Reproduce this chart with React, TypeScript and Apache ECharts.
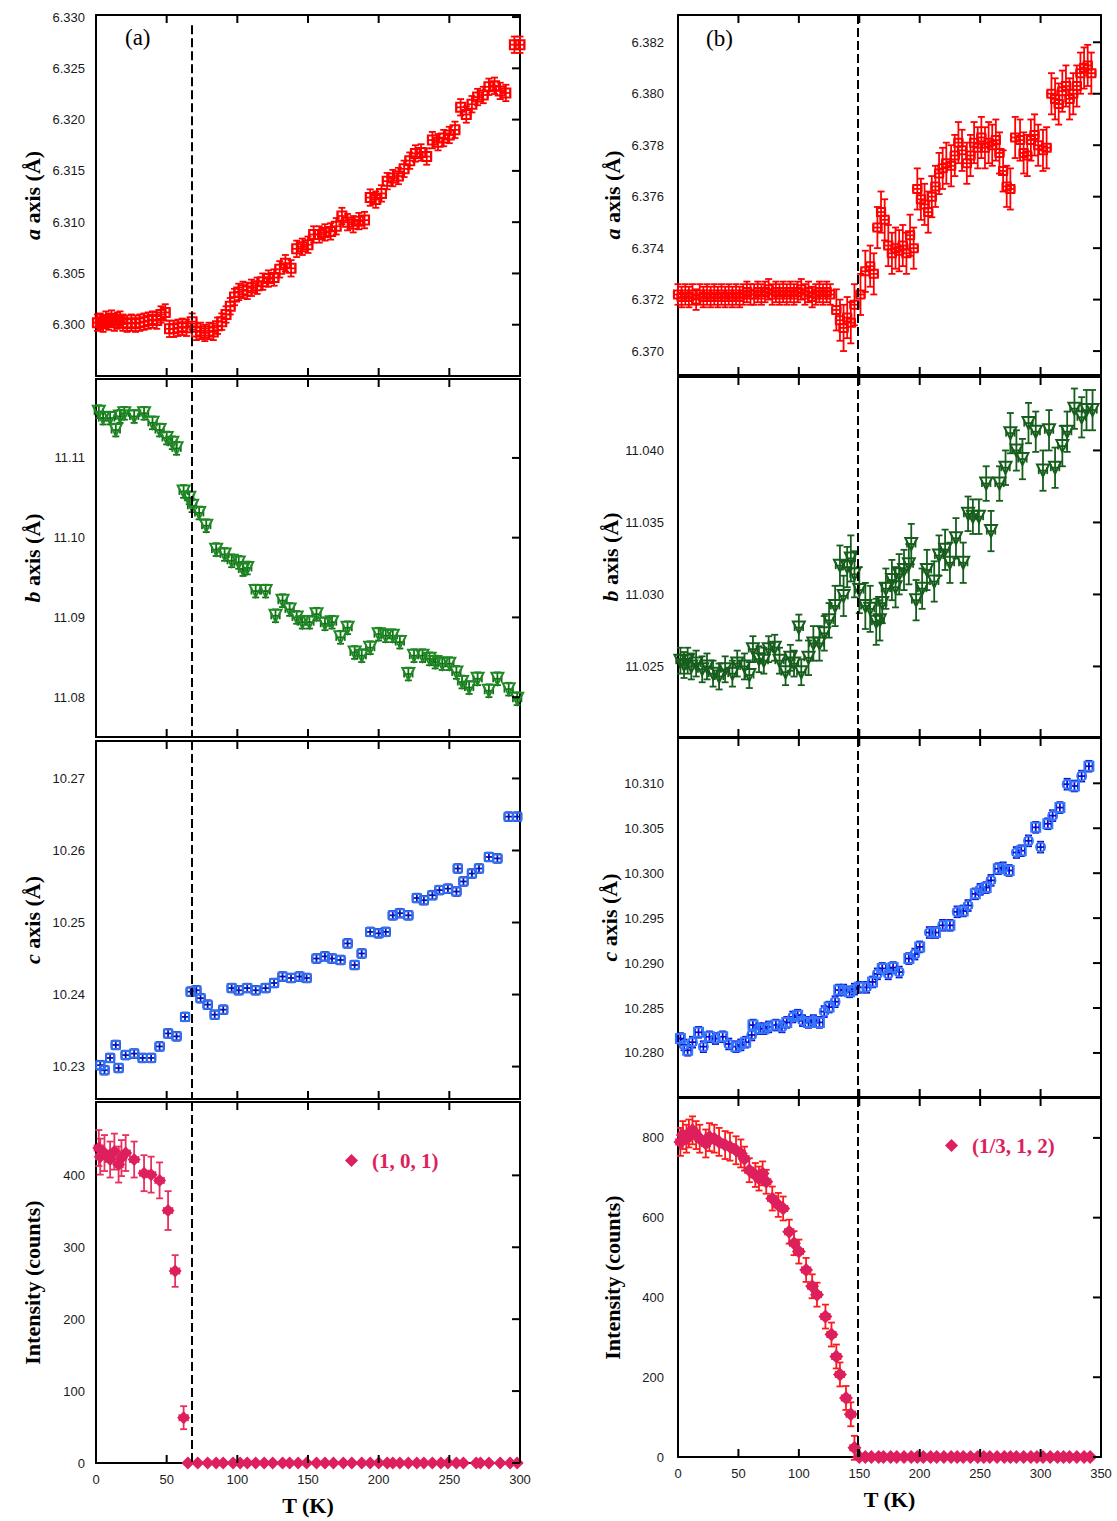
import React, { useEffect, useRef } from "react";
import * as echarts from "echarts";

// ---------------- data ----------------
const tLeftTicks = [0, 50, 100, 150, 200, 250, 300];
const tRightTicks = [0, 50, 100, 150, 200, 250, 300, 350];

const aLeftTicks = [6.3, 6.305, 6.31, 6.315, 6.32, 6.325, 6.33];
const bLeftTicks = [11.08, 11.09, 11.1, 11.11];
const cLeftTicks = [10.23, 10.24, 10.25, 10.26, 10.27];
const iLeftTicks = [0, 100, 200, 300, 400];
const aRightTicks = [6.37, 6.372, 6.374, 6.376, 6.378, 6.38, 6.382];
const bRightTicks = [11.025, 11.03, 11.035, 11.04];
const cRightTicks = [10.28, 10.285, 10.29, 10.295, 10.3, 10.305, 10.31];
const iRightTicks = [0, 200, 400, 600, 800];

const transitionLeft = 67.5; // K
const transitionRight = 149; // K

const legendLeft = "(1, 0, 1)";
const legendRight = "(1/3, 1, 2)";

// [T (K), value, error in value]
const aLeft = [
  [1, 6.3002, 0.0008], [3, 6.3003, 0.0008], [5, 6.3001, 0.0008], [7, 6.3005, 0.0008], [9, 6.3003, 0.0008],
  [11, 6.3006, 0.0008], [13, 6.3002, 0.0008], [15, 6.3004, 0.0008], [17, 6.3005, 0.0008], [19, 6.3002, 0.0008],
  [22, 6.3001, 0.0008], [25, 6.3002, 0.0008], [28, 6.3001, 0.0008], [31, 6.3002, 0.0008], [34, 6.3003, 0.0008],
  [37, 6.3004, 0.0008], [40, 6.3005, 0.0008], [43, 6.3004, 0.0008], [46, 6.301, 0.0008], [49, 6.3012, 0.0008],
  [52, 6.2996, 0.0008], [55, 6.2996, 0.0008], [58, 6.2997, 0.0008], [61, 6.2998, 0.0008], [64, 6.2997, 0.0008],
  [68, 6.3003, 0.0008], [71, 6.2993, 0.0008], [74, 6.2994, 0.0008], [77, 6.2992, 0.0008], [80, 6.2994, 0.0008],
  [83, 6.2993, 0.0008], [86, 6.2999, 0.0008], [89, 6.3003, 0.0008], [92, 6.301, 0.0008], [95, 6.3018, 0.0008],
  [98, 6.3027, 0.0008], [101, 6.3032, 0.0008], [104, 6.3034, 0.0008], [107, 6.3033, 0.0008], [110, 6.3036, 0.0008],
  [114, 6.3038, 0.0008], [118, 6.3042, 0.0008], [122, 6.3045, 0.0008], [126, 6.3046, 0.0008], [130, 6.3054, 0.0008],
  [134, 6.306, 0.0008], [138, 6.3055, 0.0008], [142, 6.3074, 0.0008], [146, 6.3076, 0.0008], [150, 6.3078, 0.0008],
  [154, 6.3088, 0.0008], [158, 6.3088, 0.0008], [162, 6.309, 0.0008], [166, 6.3091, 0.0008], [170, 6.3096, 0.0008],
  [174, 6.3106, 0.0008], [178, 6.31, 0.0008], [182, 6.3098, 0.0008], [186, 6.3101, 0.0008], [190, 6.3102, 0.0008],
  [194, 6.3124, 0.0008], [198, 6.3122, 0.0008], [202, 6.3128, 0.0008], [206, 6.314, 0.0008], [210, 6.3143, 0.0008],
  [214, 6.3145, 0.0008], [218, 6.3152, 0.0008], [222, 6.316, 0.0008], [226, 6.3167, 0.0008], [230, 6.3168, 0.0008],
  [234, 6.3164, 0.0008], [238, 6.318, 0.0008], [242, 6.3178, 0.0008], [246, 6.3182, 0.0008], [250, 6.3185, 0.0008],
  [254, 6.319, 0.0008], [258, 6.3212, 0.0008], [262, 6.3205, 0.0008], [266, 6.3215, 0.0008], [270, 6.3222, 0.0008],
  [274, 6.3224, 0.0008], [278, 6.3232, 0.0008], [282, 6.3233, 0.0008], [286, 6.3228, 0.0008], [290, 6.3226, 0.0008],
  [296, 6.3273, 0.0008], [300, 6.3273, 0.0008],
];

const bLeft = [
  [2, 11.1158, 0.0008], [5, 11.115, 0.0008], [10, 11.115, 0.0008], [14, 11.1135, 0.0008], [17, 11.1152, 0.0008],
  [20, 11.1156, 0.0008], [27, 11.1152, 0.0008], [34, 11.1156, 0.0008], [40, 11.1144, 0.0008], [45, 11.1135, 0.0008],
  [50, 11.1125, 0.0008], [54, 11.1119, 0.0008], [57, 11.1112, 0.0008], [62, 11.1058, 0.0008], [66, 11.105, 0.0008],
  [68, 11.104, 0.0008], [73, 11.1031, 0.0008], [78, 11.1015, 0.0008], [85, 11.0985, 0.0008], [91, 11.0979, 0.0008],
  [96, 11.0971, 0.0008], [101, 11.0969, 0.0008], [104, 11.096, 0.0008], [107, 11.0962, 0.0008], [113, 11.0933, 0.0008],
  [120, 11.0933, 0.0008], [127, 11.0902, 0.0008], [132, 11.0921, 0.0008], [137, 11.091, 0.0008], [142, 11.09, 0.0008],
  [146, 11.0894, 0.0008], [151, 11.0894, 0.0008], [156, 11.0904, 0.0008], [162, 11.0892, 0.0008], [167, 11.0894, 0.0008],
  [173, 11.0875, 0.0008], [178, 11.0887, 0.0008], [183, 11.0856, 0.0008], [188, 11.0852, 0.0008], [194, 11.0862, 0.0008],
  [200, 11.0879, 0.0008], [205, 11.0877, 0.0008], [210, 11.0877, 0.0008], [215, 11.0869, 0.0008], [221, 11.0829, 0.0008],
  [225, 11.0852, 0.0008], [231, 11.0852, 0.0008], [236, 11.0848, 0.0008], [240, 11.0844, 0.0008], [245, 11.0842, 0.0008],
  [250, 11.0842, 0.0008], [255, 11.0831, 0.0008], [259, 11.0819, 0.0008], [264, 11.0812, 0.0008], [270, 11.0823, 0.0008],
  [278, 11.0808, 0.0008], [284, 11.0823, 0.0008], [292, 11.081, 0.0008], [298, 11.0798, 0.0008],
];

const cLeft = [
  [3, 10.2302, 0.0006], [6, 10.2295, 0.0006], [10, 10.2312, 0.0006], [14, 10.233, 0.0006], [16, 10.2298, 0.0006],
  [21, 10.2316, 0.0006], [27, 10.2318, 0.0006], [33, 10.2312, 0.0006], [39, 10.2312, 0.0006], [45, 10.2328, 0.0006],
  [51, 10.2346, 0.0006], [57, 10.2342, 0.0006], [63, 10.2369, 0.0006], [67, 10.2404, 0.0006], [71, 10.2406, 0.0006],
  [74, 10.2395, 0.0006], [79, 10.2386, 0.0006], [84, 10.2372, 0.0006], [90, 10.2379, 0.0006], [96, 10.2409, 0.0006],
  [101, 10.2406, 0.0006], [107, 10.2409, 0.0006], [113, 10.2406, 0.0006], [120, 10.2409, 0.0006], [126, 10.2416, 0.0006],
  [132, 10.2425, 0.0006], [138, 10.2423, 0.0006], [144, 10.2425, 0.0006], [149, 10.2423, 0.0006], [156, 10.245, 0.0006],
  [162, 10.2453, 0.0006], [167, 10.245, 0.0006], [173, 10.2448, 0.0006], [178, 10.2471, 0.0006], [183, 10.2441, 0.0006],
  [188, 10.2457, 0.0006], [194, 10.2487, 0.0006], [200, 10.2485, 0.0006], [205, 10.2487, 0.0006], [210, 10.251, 0.0006],
  [215, 10.2513, 0.0006], [221, 10.251, 0.0006], [227, 10.2534, 0.0006], [232, 10.2531, 0.0006], [238, 10.2538, 0.0006],
  [243, 10.2545, 0.0006], [249, 10.2547, 0.0006], [255, 10.2543, 0.0006], [256, 10.2575, 0.0006], [260, 10.2557, 0.0006],
  [266, 10.2568, 0.0006], [271, 10.2575, 0.0006], [278, 10.2591, 0.0006], [284, 10.2589, 0.0006], [292, 10.2647, 0.0006],
  [298, 10.2647, 0.0006],
];

const iLeft = [
  [2, 438, 25], [3, 426, 25], [6, 431, 25], [10, 422, 25], [13, 433, 25], [16, 415, 25], [18, 424, 25],
  [21, 431, 25], [27, 422, 25], [34, 403, 25], [39, 401, 25], [45, 393, 25], [51, 351, 27], [56, 267, 22],
  [62, 63, 16],
  [65, 0, 0], [72, 0, 0], [79, 0, 0], [85, 0, 0], [90, 0, 0], [97, 0, 0], [102, 0, 0], [107, 0, 0], [113, 0, 0],
  [119, 0, 0], [125, 0, 0], [132, 0, 0], [137, 0, 0], [143, 0, 0], [149, 0, 0], [156, 0, 0], [162, 0, 0],
  [168, 0, 0], [175, 0, 0], [181, 0, 0], [188, 0, 0], [194, 0, 0], [200, 0, 0], [206, 0, 0], [210, 0, 0],
  [215, 0, 0], [221, 0, 0], [227, 0, 0], [232, 0, 0], [238, 0, 0], [244, 0, 0], [249, 0, 0], [255, 0, 0],
  [260, 0, 0], [269, 0, 0], [272, 0, 0], [278, 0, 0], [286, 0, 0], [293, 0, 0], [298, 0, 0],
];

const aRight = [
  [0, 6.3722, 0.0004], [3, 6.3721, 0.0004], [6, 6.3722, 0.0004], [9, 6.3721, 0.0004], [12, 6.3722, 0.0004],
  [15, 6.372, 0.0004], [18, 6.3722, 0.0004], [21, 6.3721, 0.0004], [24, 6.3722, 0.0004], [27, 6.3721, 0.0004],
  [30, 6.3722, 0.0004], [33, 6.3721, 0.0004], [36, 6.3722, 0.0004], [39, 6.3721, 0.0004], [42, 6.3722, 0.0004],
  [45, 6.3721, 0.0004], [48, 6.3722, 0.0004], [51, 6.3721, 0.0004], [54, 6.3722, 0.0004], [57, 6.3723, 0.0004],
  [60, 6.3722, 0.0004], [63, 6.3722, 0.0004], [66, 6.3723, 0.0004], [69, 6.3722, 0.0004], [72, 6.3723, 0.0004],
  [75, 6.3724, 0.0004], [78, 6.3722, 0.0004], [81, 6.3723, 0.0004], [84, 6.3722, 0.0004], [87, 6.3723, 0.0004],
  [90, 6.3722, 0.0004], [93, 6.3723, 0.0004], [96, 6.3722, 0.0004], [99, 6.3723, 0.0004], [102, 6.3724, 0.0004],
  [105, 6.3722, 0.0004], [108, 6.3723, 0.0004], [111, 6.3721, 0.0004], [114, 6.3722, 0.0004], [117, 6.3723, 0.0004],
  [120, 6.3722, 0.0004], [123, 6.3723, 0.0004], [126, 6.3722, 0.0004],
  [131, 6.3716, 0.0008], [134, 6.3712, 0.0008], [137, 6.3709, 0.0009], [140, 6.3713, 0.0008], [143, 6.3711, 0.0008],
  [146, 6.3718, 0.0008], [151, 6.3722, 0.0008], [155, 6.3731, 0.0008], [159, 6.3733, 0.0008], [162, 6.373, 0.0008],
  [165, 6.3748, 0.0008], [168, 6.3754, 0.0008], [171, 6.3751, 0.0008], [174, 6.3741, 0.0008], [177, 6.3738, 0.0008],
  [180, 6.374, 0.0008], [183, 6.3739, 0.0008], [186, 6.3741, 0.0008], [189, 6.3738, 0.0008], [192, 6.3745, 0.0008],
  [195, 6.374, 0.0008], [198, 6.3763, 0.0008], [201, 6.3759, 0.0008], [204, 6.3757, 0.0008], [207, 6.3754, 0.0008],
  [210, 6.376, 0.0008], [213, 6.3764, 0.0008], [216, 6.3769, 0.0008], [219, 6.3771, 0.0008], [222, 6.3773, 0.0008],
  [226, 6.3772, 0.0008], [229, 6.3776, 0.0008], [232, 6.3781, 0.0008], [235, 6.3778, 0.0008], [239, 6.3773, 0.0008],
  [242, 6.3776, 0.0008], [245, 6.3781, 0.0008], [248, 6.3779, 0.0008], [251, 6.3783, 0.0008], [254, 6.3779, 0.0008],
  [257, 6.3781, 0.0008], [260, 6.378, 0.0008], [263, 6.3782, 0.0008], [266, 6.3777, 0.0008], [269, 6.377, 0.0008],
  [272, 6.3764, 0.0008], [275, 6.3763, 0.0008], [279, 6.3783, 0.0008], [283, 6.3782, 0.0008], [286, 6.3777, 0.0008],
  [289, 6.3776, 0.0008], [292, 6.3782, 0.0008], [295, 6.3784, 0.0008], [298, 6.378, 0.0008], [302, 6.3778, 0.0008],
  [305, 6.3779, 0.0008], [309, 6.38, 0.0008], [312, 6.3798, 0.0008], [315, 6.3796, 0.0008], [318, 6.3801, 0.0008],
  [321, 6.3803, 0.0008], [324, 6.3798, 0.0008], [327, 6.38, 0.0008], [330, 6.3803, 0.0008], [333, 6.3808, 0.0008],
  [336, 6.381, 0.0008], [339, 6.3811, 0.0008], [342, 6.3808, 0.0008],
];

const bRight = [
  [2, 11.0254, 0.0009], [5, 11.0251, 0.0009], [8, 11.0254, 0.0009], [11, 11.025, 0.0009], [15, 11.0252, 0.0009],
  [20, 11.0248, 0.0009], [24, 11.025, 0.0009], [29, 11.0245, 0.0009], [34, 11.0243, 0.0009], [39, 11.0248, 0.0009],
  [45, 11.0245, 0.0009], [49, 11.0252, 0.0009], [55, 11.025, 0.0009], [59, 11.0244, 0.0009], [62, 11.0262, 0.0009],
  [67, 11.0255, 0.0009], [71, 11.0254, 0.0009], [75, 11.0262, 0.0009], [80, 11.0263, 0.0009], [84, 11.0254, 0.0009],
  [89, 11.0246, 0.0009], [93, 11.0256, 0.0009], [96, 11.0252, 0.0009], [100, 11.0277, 0.0009], [102, 11.0246, 0.0009],
  [108, 11.0256, 0.0012], [112, 11.0266, 0.0012], [117, 11.0266, 0.0012], [121, 11.0273, 0.0012], [125, 11.0282, 0.0012],
  [130, 11.0292, 0.0014], [134, 11.032, 0.0014], [137, 11.0299, 0.0014], [140, 11.0319, 0.0014], [143, 11.0325, 0.0016],
  [146, 11.0314, 0.0016], [150, 11.0303, 0.0016], [155, 11.0292, 0.0016], [159, 11.029, 0.0016], [164, 11.0281, 0.0016],
  [167, 11.0282, 0.0014], [169, 11.0294, 0.0014], [172, 11.0304, 0.0014], [177, 11.031, 0.0014], [180, 11.0305, 0.0014],
  [183, 11.0314, 0.0014], [187, 11.0317, 0.0014], [191, 11.0321, 0.0014], [193, 11.0335, 0.0014], [197, 11.0296, 0.0014],
  [202, 11.0304, 0.0014], [206, 11.0317, 0.0014], [212, 11.0309, 0.0014], [216, 11.0327, 0.0014], [221, 11.0331, 0.0014],
  [225, 11.0322, 0.0014], [230, 11.0339, 0.0014], [236, 11.0322, 0.0014], [240, 11.0356, 0.0012], [244, 11.0354, 0.0012],
  [249, 11.0354, 0.0012], [255, 11.0377, 0.0012], [259, 11.0344, 0.0014], [266, 11.0377, 0.0012], [271, 11.0388, 0.0012],
  [275, 11.0412, 0.0014], [280, 11.04, 0.0014], [285, 11.0394, 0.0014], [290, 11.0419, 0.0014], [296, 11.0413, 0.0014],
  [302, 11.0386, 0.0014], [307, 11.0414, 0.0014], [312, 11.0388, 0.0014], [318, 11.0403, 0.0014], [322, 11.0413, 0.0014],
  [328, 11.0429, 0.0014], [334, 11.0423, 0.0014], [338, 11.0428, 0.0014], [343, 11.0428, 0.0014],
];

const cRight = [
  [2, 10.2816, 0.0006], [5, 10.2809, 0.0006], [8, 10.2803, 0.0006], [12, 10.2812, 0.0006], [17, 10.2823, 0.0006],
  [21, 10.2807, 0.0006], [26, 10.2818, 0.0006], [31, 10.2816, 0.0006], [37, 10.2818, 0.0006], [42, 10.281, 0.0006],
  [48, 10.2807, 0.0006], [52, 10.2809, 0.0006], [56, 10.2812, 0.0006], [61, 10.282, 0.0006], [62, 10.2831, 0.0006],
  [67, 10.2827, 0.0006], [71, 10.2827, 0.0006], [75, 10.2829, 0.0006], [81, 10.2831, 0.0006], [86, 10.2829, 0.0006],
  [90, 10.2834, 0.0006], [95, 10.284, 0.0006], [99, 10.2842, 0.0006], [103, 10.2836, 0.0006], [108, 10.2834, 0.0006],
  [112, 10.2836, 0.0006], [117, 10.2834, 0.0006], [121, 10.2846, 0.0006], [125, 10.2851, 0.0006], [130, 10.2857, 0.0006],
  [133, 10.287, 0.0006], [137, 10.287, 0.0006], [142, 10.2868, 0.0006], [146, 10.2871, 0.0006], [150, 10.2873, 0.0006],
  [156, 10.2873, 0.0006], [161, 10.2879, 0.0006], [165, 10.2888, 0.0006], [169, 10.2894, 0.0006], [174, 10.2888, 0.0006],
  [178, 10.2895, 0.0006], [183, 10.289, 0.0006], [191, 10.2905, 0.0006], [196, 10.291, 0.0006], [200, 10.2918, 0.0006],
  [208, 10.2934, 0.0006], [213, 10.2934, 0.0006], [219, 10.2942, 0.0006], [225, 10.2942, 0.0006], [231, 10.2957, 0.0006],
  [236, 10.2958, 0.0006], [240, 10.2964, 0.0006], [246, 10.2977, 0.0006], [250, 10.2982, 0.0006], [255, 10.2984, 0.0006],
  [259, 10.2992, 0.0006], [265, 10.3005, 0.0006], [269, 10.3006, 0.0006], [274, 10.3003, 0.0006], [280, 10.3023, 0.0006],
  [284, 10.3025, 0.0006], [290, 10.3036, 0.0006], [296, 10.3051, 0.0006], [300, 10.3029, 0.0006], [306, 10.3055, 0.0006],
  [310, 10.3064, 0.0006], [316, 10.3073, 0.0006], [322, 10.3099, 0.0006], [328, 10.3097, 0.0006], [334, 10.3108, 0.0006],
  [340, 10.3119, 0.0006],
];

const iRight = [
  [2, 790, 35], [4, 807, 35], [7, 798, 35], [9, 811, 35], [12, 819, 35], [15, 807, 35], [18, 798, 35],
  [23, 786, 35], [26, 802, 35], [30, 798, 35], [34, 790, 35], [39, 782, 35], [43, 778, 35], [48, 769, 35],
  [52, 761, 35], [55, 748, 30], [59, 719, 30], [64, 707, 30], [67, 698, 30], [70, 711, 30], [73, 690, 30],
  [78, 648, 30], [83, 632, 30], [87, 623, 30], [92, 565, 30], [96, 536, 30], [100, 515, 30], [106, 469, 30],
  [111, 428, 30], [115, 407, 30], [122, 352, 30], [127, 307, 30], [131, 252, 30], [134, 207, 30], [139, 148, 30],
  [143, 107, 30], [146, 23, 30],
  [150, 0, 0], [155, 0, 0], [160, 0, 0], [166, 0, 0], [170, 0, 0], [176, 0, 0], [181, 0, 0], [187, 0, 0],
  [193, 0, 0], [198, 0, 0], [203, 0, 0], [209, 0, 0], [214, 0, 0], [220, 0, 0], [226, 0, 0], [231, 0, 0],
  [236, 0, 0], [242, 0, 0], [248, 0, 0], [253, 0, 0], [258, 0, 0], [264, 0, 0], [270, 0, 0], [275, 0, 0],
  [280, 0, 0], [286, 0, 0], [292, 0, 0], [297, 0, 0], [302, 0, 0], [308, 0, 0], [314, 0, 0], [319, 0, 0],
  [324, 0, 0], [330, 0, 0], [336, 0, 0], [341, 0, 0],
];

// ---------------- styling / layout ----------------
const SERIF = '"Liberation Serif", "Times New Roman", serif';
const SANS = '"Liberation Sans", Arial, sans-serif';
const RED = "#ff0000";
const CRIMSON = "#de1f5e";
const TICK_LEN = 8;

const W = 1117;
const H = 1521;

type Panel = {
  col: number;
  box: [number, number, number, number]; // left, top, width, height
  data: number[][];
  dx: number;
  yMin: number;
  yMax: number;
  ticks: number[];
  dec: number;
  name: string;
  symbol: string | ((v: any, p: any) => string);
  size: number;
  rotate?: number;
  color: string;
  errColor: string;
  hollow: boolean;
  bottom?: boolean;
  dashTop?: number;
  seriesName?: string;
};

const altSymbol = (_v: any, p: any) => (p.dataIndex % 2 === 0 ? "rect" : "circle");

const panels: Panel[] = [
  { col: 0, box: [96, 15, 424, 361], data: aLeft, dx: 3, yMin: 6.295, yMax: 6.3302, ticks: aLeftTicks, dec: 3,
    name: "{i|a} axis (Å)", symbol: "rect", size: 9, color: RED, errColor: RED, hollow: true, dashTop: 6.3292 },
  { col: 0, box: [96, 379, 424, 358], data: bLeft, dx: 3, yMin: 11.075, yMax: 11.1199, ticks: bLeftTicks, dec: 2,
    name: "{i|b} axis (Å)", symbol: "triangle", rotate: 180, size: 12, color: "#1f8a24", errColor: "#137018", hollow: true },
  { col: 0, box: [96, 741, 424, 358], data: cLeft, dx: 3, yMin: 10.2255, yMax: 10.2752, ticks: cLeftTicks, dec: 2,
    name: "{i|c} axis (Å)", symbol: "rect", size: 8, color: "#2f6ff0", errColor: "#0a10b0", hollow: true },
  { col: 0, box: [96, 1102, 424, 361], data: iLeft, dx: 3, yMin: 0, yMax: 502, ticks: iLeftTicks, dec: 0,
    name: "Intensity (counts)", symbol: "diamond", size: 13, color: CRIMSON, errColor: "#e8305e", hollow: false,
    bottom: true, seriesName: legendLeft },
  { col: 1, box: [678, 15, 423, 360], data: aRight, dx: 3.5, yMin: 6.36907, yMax: 6.38306, ticks: aRightTicks, dec: 3,
    name: "{i|a} axis (Å)", symbol: "rect", size: 8, color: RED, errColor: RED, hollow: true },
  { col: 1, box: [678, 377, 423, 360], data: bRight, dx: 3.5, yMin: 11.0201, yMax: 11.0451, ticks: bRightTicks, dec: 3,
    name: "{i|b} axis (Å)", symbol: "triangle", rotate: 180, size: 12, color: "#165e1c", errColor: "#165e1c", hollow: true },
  { col: 1, box: [678, 738, 423, 359], data: cRight, dx: 3, yMin: 10.2751, yMax: 10.31504, ticks: cRightTicks, dec: 3,
    name: "{i|c} axis (Å)", symbol: altSymbol, size: 9, color: "#3377ff", errColor: "#0a0acc", hollow: true },
  { col: 1, box: [678, 1098, 423, 359], data: iRight, dx: 3.5, yMin: 0, yMax: 900, ticks: iRightTicks, dec: 0,
    name: "Intensity (counts)", symbol: "diamond", size: 14, color: CRIMSON, errColor: "#ff1a1a", hollow: false,
    bottom: true, seriesName: legendRight },
];

const seg = (x1: number, y1: number, x2: number, y2: number, color: string, w: number) => ({
  type: "line",
  shape: { x1, y1, x2, y2 },
  style: { stroke: color, lineWidth: w },
});

function makeErrRender(dx: number, color: string) {
  return (_params: any, api: any) => {
    const t = api.value(0);
    const v = api.value(1);
    const dy = api.value(2);
    if (!(dy > 0)) return { type: "group", children: [] };
    const top = api.coord([t, v + dy]);
    const bot = api.coord([t, v - dy]);
    const l = api.coord([t - dx, v]);
    const r = api.coord([t + dx, v]);
    const cap = 3.5;
    const w = 1.8;
    return {
      type: "group",
      children: [
        seg(top[0], top[1], bot[0], bot[1], color, w),
        seg(top[0] - cap, top[1], top[0] + cap, top[1], color, w),
        seg(bot[0] - cap, bot[1], bot[0] + cap, bot[1], color, w),
        seg(l[0], l[1], r[0], r[1], color, w),
        seg(l[0], l[1] - cap, l[0], l[1] + cap, color, w),
        seg(r[0], r[1] - cap, r[0], r[1] + cap, color, w),
      ],
    };
  };
}

// inward tick marks on top and bottom frame at each T tick (positions from the x scale)
function makeXTickRender(yRef: number) {
  return (params: any, api: any) => {
    const cs = params.coordSys;
    const x = api.coord([api.value(0), yRef])[0];
    return {
      type: "group",
      children: [
        seg(x, cs.y, x, cs.y + TICK_LEN, "#000", 2),
        seg(x, cs.y + cs.height, x, cs.y + cs.height - TICK_LEN, "#000", 2),
      ],
    };
  };
}

// inward tick marks on the right frame at each value tick (positions from the y scale)
function makeYTickRender(tRef: number) {
  return (params: any, api: any) => {
    const cs = params.coordSys;
    const y = api.coord([tRef, api.value(1)])[1];
    const xr = cs.x + cs.width;
    return { type: "group", children: [seg(xr, y, xr - TICK_LEN, y, "#000", 2)] };
  };
}

function buildOption() {
  const grid: any[] = [];
  const xAxis: any[] = [];
  const yAxis: any[] = [];
  const series: any[] = [];
  const labelStyle = { fontFamily: SANS, fontSize: 13, color: "#1a1a1a" };
  const nameStyle = {
    fontFamily: SERIF, fontWeight: "bold", fontSize: 22, color: "#000",
    rich: { i: { fontFamily: SERIF, fontWeight: "bold", fontStyle: "italic", fontSize: 22, color: "#000" } },
  };
  const mkFrame = () => ({ show: true, onZero: false, lineStyle: { color: "#000", width: 2 } });

  panels.forEach((p, g) => {
    const [left, top, width, height] = p.box;
    grid.push({ left, top, width, height, containLabel: false });
    const tTicks = p.col === 0 ? tLeftTicks : tRightTicks;
    const tMin = tTicks[0];
    const tMax = tTicks[tTicks.length - 1];
    const tStep = tTicks[1] - tTicks[0];
    xAxis.push({
      type: "value", gridIndex: g, position: "bottom", min: tMin, max: tMax, interval: tStep,
      axisLine: mkFrame(), axisTick: { show: false }, splitLine: { show: false },
      axisLabel: { show: !!p.bottom, margin: 10, ...labelStyle },
      name: p.bottom ? "T (K)" : "", nameLocation: "middle", nameGap: 31,
      nameTextStyle: { fontFamily: SERIF, fontWeight: "bold", fontSize: 22, color: "#000" },
    });
    xAxis.push({
      type: "value", gridIndex: g, position: "top", min: tMin, max: tMax, interval: tStep,
      axisLine: mkFrame(), axisTick: { show: false }, splitLine: { show: false },
      axisLabel: { show: false },
    });
    yAxis.push({
      type: "value", gridIndex: g, position: "left", min: p.yMin, max: p.yMax,
      axisLine: mkFrame(), axisTick: { show: false }, splitLine: { show: false },
      axisLabel: {
        customValues: p.ticks, margin: p.col === 0 ? 11 : 14, ...labelStyle,
        formatter: (v: number) => v.toFixed(p.dec),
      },
      name: p.name, nameLocation: "middle", nameRotate: 90, nameGap: p.col === 0 ? 53 : 55,
      nameTextStyle: nameStyle,
    });
    yAxis.push({
      type: "value", gridIndex: g, position: "right", min: p.yMin, max: p.yMax,
      axisLine: mkFrame(), axisTick: { show: false }, splitLine: { show: false },
      axisLabel: { show: false },
    });

    const xi = 2 * g;
    const yi = 2 * g;

    // frame ticks
    series.push({
      type: "custom", name: "xt" + g, xAxisIndex: xi, yAxisIndex: yi, silent: true, clip: false, z: 6,
      data: tTicks.map((t) => [t, p.yMin]), encode: { x: 0, y: 1 }, renderItem: makeXTickRender(p.yMin),
    });
    series.push({
      type: "custom", name: "yt" + g, xAxisIndex: xi, yAxisIndex: yi, silent: true, clip: false, z: 6,
      data: p.ticks.map((v) => [tMin, v]), encode: { x: 0, y: 1 }, renderItem: makeYTickRender(tMin),
    });

    // error bars
    series.push({
      type: "custom", name: "err" + g, xAxisIndex: xi, yAxisIndex: yi,
      data: p.data, encode: { x: 0, y: 1 }, renderItem: makeErrRender(p.dx, p.errColor),
      z: 2, silent: true, clip: false,
    });

    // markers + transition line
    const tc = p.col === 0 ? transitionLeft : transitionRight;
    series.push({
      type: "scatter", name: p.seriesName || "pts" + g, xAxisIndex: xi, yAxisIndex: yi,
      data: p.data.map((d) => [d[0], d[1]]),
      symbol: p.symbol, symbolSize: p.size, symbolRotate: p.rotate || 0,
      itemStyle: p.hollow
        ? { color: "rgba(255,255,255,0)", borderColor: p.color, borderWidth: 2, opacity: 1 }
        : { color: p.color, opacity: 1 },
      z: 3, clip: false, silent: true,
      markLine: {
        silent: true, symbol: ["none", "none"], label: { show: false },
        lineStyle: { type: [9, 4], color: "#000", width: 2 },
        data: [[{ coord: [tc, p.dashTop ?? p.yMax] }, { coord: [tc, p.yMin] }]],
      },
    });
  });

  const legendCommon = {
    orient: "horizontal", padding: 0, itemWidth: 13, itemHeight: 13, icon: "diamond", selectedMode: false,
    textStyle: { fontFamily: SERIF, fontWeight: "bold", fontSize: 21, color: CRIMSON, padding: [0, 0, 0, 9] },
  };

  return {
    animation: false,
    backgroundColor: "#ffffff",
    grid, xAxis, yAxis, series,
    legend: [
      { ...legendCommon, data: [legendLeft], left: 345, top: 1150 },
      { ...legendCommon, data: [legendRight], left: 945, top: 1135 },
    ],
    graphic: [
      { type: "text", left: 125, top: 26, style: { text: "(a)", font: `23px ${SERIF}`, fill: "#000" } },
      { type: "text", left: 706, top: 27, style: { text: "(b)", font: `23px ${SERIF}`, fill: "#000" } },
    ],
  };
}

export default function App() {
  const ref = useRef<HTMLDivElement>(null);
  useEffect(() => {
    if (!ref.current) return;
    const chart = echarts.init(ref.current, undefined, { renderer: "svg" });
    chart.setOption(buildOption() as any);
    return () => chart.dispose();
  }, []);
  return (
    <div
      ref={ref}
      style={{ position: "absolute", left: 0, top: 0, width: W, height: H, background: "#fff" }}
    />
  );
}
